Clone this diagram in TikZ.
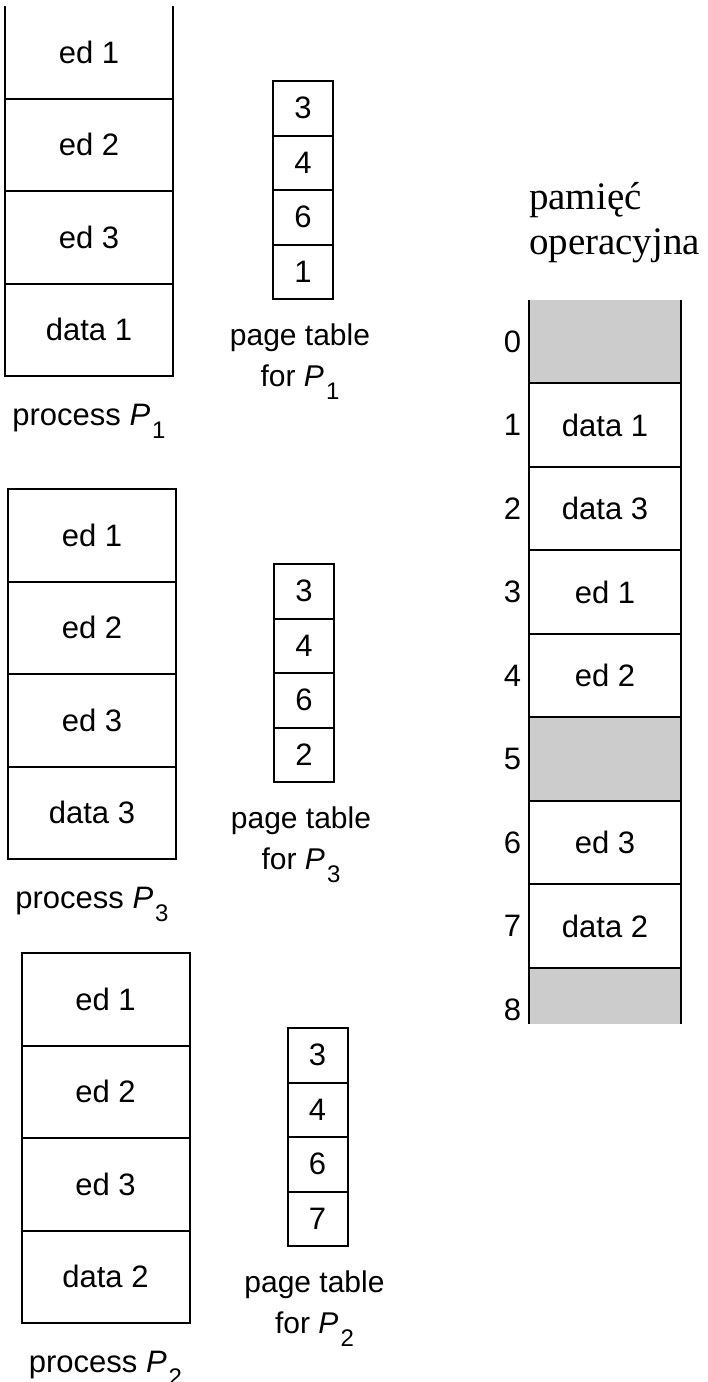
\documentclass[tikz,border=0pt]{standalone}
\usepackage{fontspec}
\setmainfont{Liberation Sans}
\newfontfamily\capfont{Liberation Serif}
\usepackage{tikz}
\usetikzlibrary{positioning}
\definecolor{ink}{HTML}{000000}
\definecolor{hole}{HTML}{CCCCCC}
\newcommand{\procname}[1]{\textit{P}\kern2pt\raisebox{-13pt}{\fontsize{24}{24}\selectfont #1}}

\begin{document}
\begin{tikzpicture}[x=1pt,y=-1pt,
  every node/.style={font=\fontsize{31}{41}\selectfont,inner sep=0pt,outer sep=0pt},
  pagecell/.style={draw=ink,line width=2pt,minimum width=168pt,minimum height=92.5pt},
  ptcell/.style={draw=ink,line width=2pt,minimum width=60pt,minimum height=54.5pt},
  memcell/.style={draw=ink,line width=2pt,minimum width=152pt,minimum height=83.5pt},
  caption/.style={align=center,font=\fontsize{30}{41}\selectfont}]
  \useasboundingbox (0,0) rectangle (708,1382);

  % processes: logical pages
  \foreach \p/\x/\y/\d/\dc in {1/89/6/data 1/none, 3/92/489/data 3/ink, 2/105.5/953/data 2/ink}{
    \node[pagecell,draw=\dc] (p\p a) at (\x,\y+46.25) {ed 1};
    \node[pagecell,below=0pt of p\p a] (p\p b) {ed 2};
    \node[pagecell,below=0pt of p\p b] (p\p c) {ed 3};
    \node[pagecell,below=0pt of p\p c] (p\p d) {\d};
    \node[below=28pt of p\p d] (p\p lbl) {process \procname{\p}};
  }
  \draw[ink,line width=2pt] (p1a.north west) -- (p1a.south west) (p1a.north east) -- (p1a.south east);

  % page tables
  \foreach \p/\x/\y/\a/\b/\c/\d in {1/303/81/3/4/6/1, 3/304/564/3/4/6/2, 2/317.5/1028/3/4/6/7}{
    \node[ptcell] (t\p a) at (\x,\y+27.25) {\a};
    \node[ptcell,below=0pt of t\p a] (t\p b) {\b};
    \node[ptcell,below=0pt of t\p b] (t\p c) {\c};
    \node[ptcell,below=0pt of t\p c] (t\p d) {\d};
    \node[caption,below=25pt of t\p d,xshift=-3pt] (t\p lbl) {page table\\for \procname{\p}};
  }

  % physical memory
  \coordinate (membot) at (605,1024);
  \foreach \r/\txt/\fc/\dc in {0//hole/none, 1/data 1/white/ink, 2/data 3/white/ink,
      3/ed 1/white/ink, 4/ed 2/white/ink, 5//hole/ink, 6/ed 3/white/ink,
      7/data 2/white/ink, 8//none/none}{
    \node[memcell,fill=\fc,draw=\dc] (m\r) at (605,341.5+\r*83.5) {\txt};
    \node[left=8pt of m\r] (n\r) {\r};
  }
  \fill[hole] ([yshift=-1pt]m8.north west) rectangle (m8.east |- membot);
  \draw[ink,line width=2pt] (m0.north west) -- (m0.north west |- membot)
    (m0.north east) -- (m0.north east |- membot);
  \draw[ink,line width=2pt] (m7.south west) -- (m7.south east);

  \node[anchor=north west,align=left,font=\capfont\fontsize{39}{45}\selectfont]
    (memtitle) at ([yshift=117pt]m0.north west) {pamięć\\operacyjna};
\end{tikzpicture}
\end{document}
